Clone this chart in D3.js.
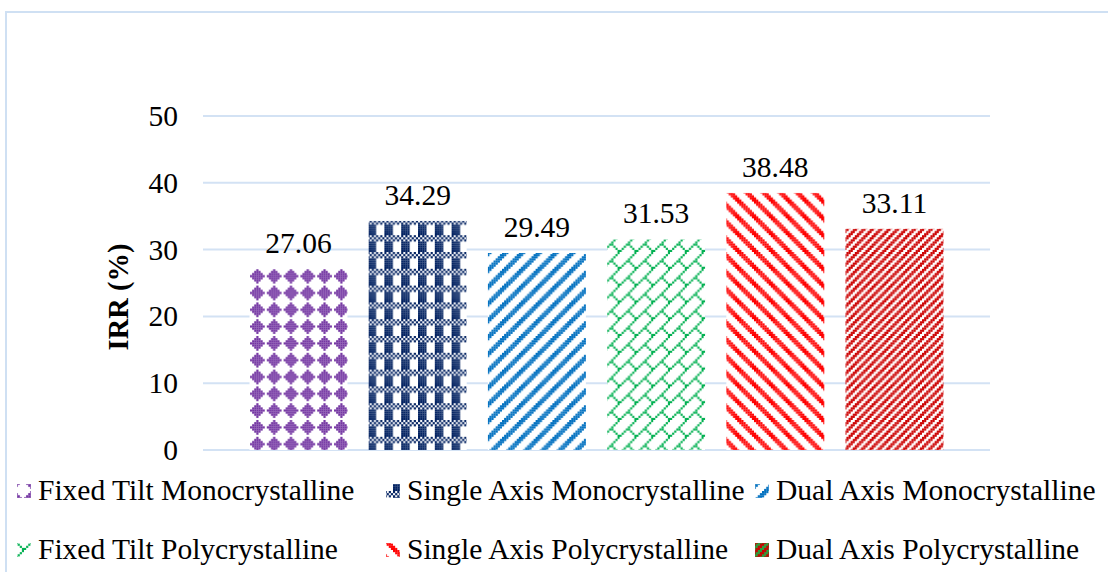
<!DOCTYPE html>
<html>
<head>
<meta charset="utf-8">
<script src="https://cdn.jsdelivr.net/npm/d3@7"></script>
<style>
  html, body { margin: 0; padding: 0; background: #fff; }
  svg { display: block; font-family: "Liberation Serif", "Times New Roman", serif; }
</style>
</head>
<body>
<svg id="chart" width="1108" height="572"></svg>
<script>
// IRR by tracking system and module technology
const seriesNames = [
  "Fixed Tilt Monocrystalline",
  "Single Axis Monocrystalline",
  "Dual Axis Monocrystalline",
  "Fixed Tilt Polycrystalline",
  "Single Axis Polycrystalline",
  "Dual Axis Polycrystalline"
];
const irrValues = [27.06, 34.29, 29.49, 31.53, 38.48, 33.11];
const yTicks = [0, 10, 20, 30, 40, 50];
const yLabel = "IRR (%)";

const svg = d3.select("#chart");
const W = 1108, H = 572;
const FS = 29.5;

// chart area frame
svg.append("rect")
  .attr("x", 6).attr("y", 12).attr("width", W + 10).attr("height", H + 10)
  .attr("fill", "#fff").attr("stroke", "#CFE0F3").attr("stroke-width", 2);

// ---------- 8x8 hatch fills ----------
const U = 2.1;                 // size of one hatch cell
const defs = svg.append("defs");
const bitmaps = {
  diamond: [
    "00010000", "00111000", "01111100", "11111110",
    "01111100", "00111000", "00010000", "00000000"],
  plaid: [
    "10101010", "01010101", "10101010", "11110000",
    "11110000", "11110000", "11110000", "11110000"],
  wideUp: d3.range(8).map(y => d3.range(8).map(x => ((x + y) % 8) < 3 ? "1" : "0").join("")),
  brick: [
    "00000001", "00000010", "00000100", "00001000",
    "00011000", "00100100", "01000010", "10000001"],
  wideDown: d3.range(8).map(y => d3.range(8).map(x => (((x - y) % 8) + 8) % 8 < 3 ? "1" : "0").join("")),
  darkUp: d3.range(8).map(y => d3.range(8).map(x => ((x + y) % 4) < 2 ? "1" : "0").join(""))
};

function makePattern(id, bits, fg, bg, ox, oy) {
  const p = defs.append("pattern")
    .attr("id", id)
    .attr("patternUnits", "userSpaceOnUse")
    .attr("x", ox || 0).attr("y", oy || 0)
    .attr("width", 8 * U).attr("height", 8 * U);
  p.append("rect").attr("width", 8 * U).attr("height", 8 * U).attr("fill", bg);
  bits.forEach((row, y) => {
    row.split("").forEach((c, x) => {
      if (c === "1") {
        p.append("rect")
          .attr("x", x * U).attr("y", y * U)
          .attr("width", U + 0.05).attr("height", U + 0.05)
          .attr("fill", fg);
      }
    });
  });
}

const fills = [
  { bits: bitmaps.diamond, fg: "#7030A0", bg: "#fff" },
  { bits: bitmaps.plaid,   fg: "#002060", bg: "#fff" },
  { bits: bitmaps.wideUp,  fg: "#0070C0", bg: "#fff" },
  { bits: bitmaps.brick,   fg: "#00B050", bg: "#fff" },
  { bits: bitmaps.wideDown,fg: "#FF0000", bg: "#fff" },
  { bits: bitmaps.darkUp,  fg: "#CC0000", bg: "#fff" }
];
fills.forEach((f, i) => makePattern("fill" + i, f.bits, f.fg, f.bg, 250, 0));

// ---------- scales ----------
const y = d3.scaleLinear().domain([0, 50]).range([450, 116]);
const plotL = 203, plotR = 990;
const groupC = (plotL + plotR) / 2, step = 119.2;
const x = d3.scaleBand()
  .domain(seriesNames)
  .range([groupC - 3 * step, groupC + 3 * step])
  .paddingInner(0.178)
  .paddingOuter(0.089);

// gridlines
svg.append("g")
  .selectAll("line")
  .data(yTicks)
  .join("line")
  .attr("x1", plotL).attr("x2", plotR)
  .attr("y1", d => y(d)).attr("y2", d => y(d))
  .attr("stroke", "#D3E2F4").attr("stroke-width", 2);

// y axis labels
const yAxis = svg.append("g")
  .attr("transform", `translate(${plotL},0)`)
  .call(d3.axisLeft(y).tickValues(yTicks).tickSize(0).tickPadding(25).tickFormat(d3.format("d")));
yAxis.select(".domain").remove();
yAxis.attr("font-family", null).attr("font-size", null);
yAxis.selectAll("text")
  .attr("font-size", FS)
  .attr("fill", "#000");

// axis title
svg.append("text")
  .attr("transform", "translate(118,297) rotate(-90)")
  .attr("text-anchor", "middle")
  .attr("dominant-baseline", "central")
  .attr("font-size", 28.5)
  .attr("font-weight", "bold")
  .text(yLabel);

// bars
svg.append("g")
  .selectAll("rect")
  .data(irrValues)
  .join("rect")
  .attr("x", (d, i) => x(seriesNames[i]))
  .attr("y", d => y(d))
  .attr("width", x.bandwidth())
  .attr("height", d => y(0) - y(d))
  .attr("fill", (d, i) => `url(#fill${i})`);

// value labels
svg.append("g")
  .selectAll("text")
  .data(irrValues)
  .join("text")
  .attr("x", (d, i) => x(seriesNames[i]) + x.bandwidth() / 2)
  .attr("y", d => y(d) - 16)
  .attr("text-anchor", "middle")
  .attr("font-size", FS)
  .text(d => d.toFixed(2));

// legend
const legCols = [17, 386, 755];
const legRows = [500, 559];
const keyPos = seriesNames.map((d, i) => [legCols[i % 3], legRows[Math.floor(i / 3)] - 16]);
// swatch fills anchored on each swatch's centre
fills.forEach((f, i) => makePattern("key" + i, f.bits, f.fg, i === 5 ? "#2E9E3E" : f.bg,
  keyPos[i][0] + 7, keyPos[i][1] + 7));

const leg = svg.append("g")
  .selectAll("g")
  .data(seriesNames)
  .join("g");
leg.append("rect")
  .attr("x", (d, i) => keyPos[i][0]).attr("y", (d, i) => keyPos[i][1])
  .attr("width", 14).attr("height", 14)
  .attr("fill", (d, i) => `url(#key${i})`);
leg.append("text")
  .attr("x", (d, i) => keyPos[i][0] + 21).attr("y", (d, i) => keyPos[i][1] + 16)
  .attr("font-size", FS)
  .text(d => d);
</script>
</body>
</html>
